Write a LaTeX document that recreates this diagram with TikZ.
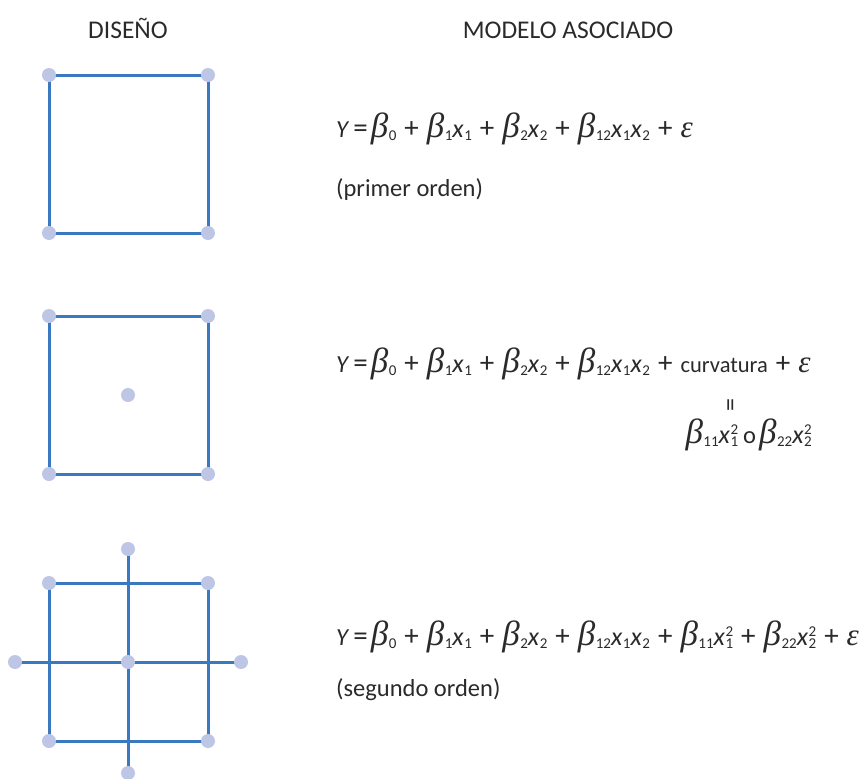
\documentclass[tikz,border=0pt]{standalone}
\usepackage{fontspec}
\setmainfont{Carlito}
\newfontfamily\grk{Liberation Serif}
\definecolor{linecol}{HTML}{3A78C0}
\definecolor{dotcol}{HTML}{BDC7E5}
\definecolor{txtcol}{HTML}{2A2A2A}
\newcommand\subfont{\fontsize{15}{15}\selectfont}
\newcommand\xfont{\fontsize{26}{26}\selectfont}
\newcommand\bb[1]{{\grk\itshape\fontsize{35}{35}\selectfont β}\kern0.5pt\raisebox{-3.5pt}{\subfont #1}}
\newcommand\xx[1]{{\xfont\textit{x}}\kern0.5pt\raisebox{-3.5pt}{\subfont #1}}
\newcommand\xq[1]{{\xfont\textit{x}}\kern0.5pt\rlap{\raisebox{-3.5pt}{\subfont #1}}\raisebox{8.5pt}{\subfont 2}}
\newcommand\eps{{\grk\itshape\fontsize{31}{31}\selectfont ε}}
\newcommand\pl{\hspace{8pt}{\fontsize{29}{29}\selectfont +}\hspace{8pt}}
\newcommand\eqs{\hspace{4pt}{\fontsize{29}{29}\selectfont =}\hspace{3pt}}
\tikzset{
  edge/.style={draw=linecol, line width=3pt},
  pt/.style={circle, fill=dotcol, inner sep=0pt, minimum size=14pt},
  hdr/.style={inner sep=0pt, text=txtcol, font=\fontsize{25.5}{25.5}\selectfont, anchor=base},
  eqn/.style={inner sep=0pt, text=txtcol, font=\fontsize{24.5}{24.5}\selectfont, anchor=base west},
}
\begin{document}
\begin{tikzpicture}[x=1pt, y=-1pt]
\useasboundingbox (0,0) rectangle (865,779);
% headers
\node[hdr] (h1) at (128,38) {DISEÑO};
\node[hdr] (h2) at (568,38) {MODELO ASOCIADO};
% design 1
\coordinate (a1) at (49,75); \coordinate (a2) at (208,75);
\coordinate (a3) at (49,233); \coordinate (a4) at (208,233);
\draw[edge] (a1) -- (a2) -- (a4) -- (a3) -- cycle;
\foreach \p in {a1,a2,a3,a4} \node[pt] at (\p) {};
% design 2
\coordinate (b1) at (49,316); \coordinate (b2) at (208,316);
\coordinate (b3) at (49,474); \coordinate (b4) at (208,474);
\coordinate (b0) at (128,395);
\draw[edge] (b1) -- (b2) -- (b4) -- (b3) -- cycle;
\foreach \p in {b1,b2,b3,b4,b0} \node[pt] at (\p) {};
% design 3
\coordinate (c1) at (49,583); \coordinate (c2) at (208,583);
\coordinate (c3) at (49,741); \coordinate (c4) at (208,741);
\coordinate (c0) at (128,662);
\coordinate (cn) at (128,549); \coordinate (cs) at (128,773);
\coordinate (cw) at (15,662); \coordinate (ce) at (241,662);
\draw[edge] (c1) -- (c2) -- (c4) -- (c3) -- cycle;
\draw[edge] (cn) -- (cs);
\draw[edge] (cw) -- (ce);
\foreach \p in {c1,c2,c3,c4,c0,cn,cs,cw,ce} \node[pt] at (\p) {};
% equations
\node[eqn] (e1) at (336,137) {\textit{Y}\eqs\bb{0}\pl\bb{1}\xx{1}\pl\bb{2}\xx{2}\pl\bb{12}\xx{1}\xx{2}\pl\eps};
\node[eqn] (t1) at (336,196) {(primer orden)};
\node[eqn] (e2) at (336,372) {\textit{Y}\eqs\bb{0}\pl\bb{1}\xx{1}\pl\bb{2}\xx{2}\pl\bb{12}\xx{1}\xx{2}\pl{\fontsize{22.5}{22.5}\selectfont curvatura}\pl\eps};
\node[inner sep=0pt, text=txtcol, font=\fontsize{26}{26}\selectfont, rotate=90] (eq) at (733,405) {=};
\node[eqn, anchor=base east] (e2b) at (812,443) {\bb{11}\xq{1}\hspace{5pt}o\hspace{3pt}\bb{22}\xq{2}};
\node[eqn] (e3) at (336,645) {\textit{Y}\eqs\bb{0}\pl\bb{1}\xx{1}\pl\bb{2}\xx{2}\pl\bb{12}\xx{1}\xx{2}\pl\bb{11}\xq{1}\pl\bb{22}\xq{2}\pl\eps};
\node[eqn] (t3) at (336,696) {(segundo orden)};
\end{tikzpicture}
\end{document}
